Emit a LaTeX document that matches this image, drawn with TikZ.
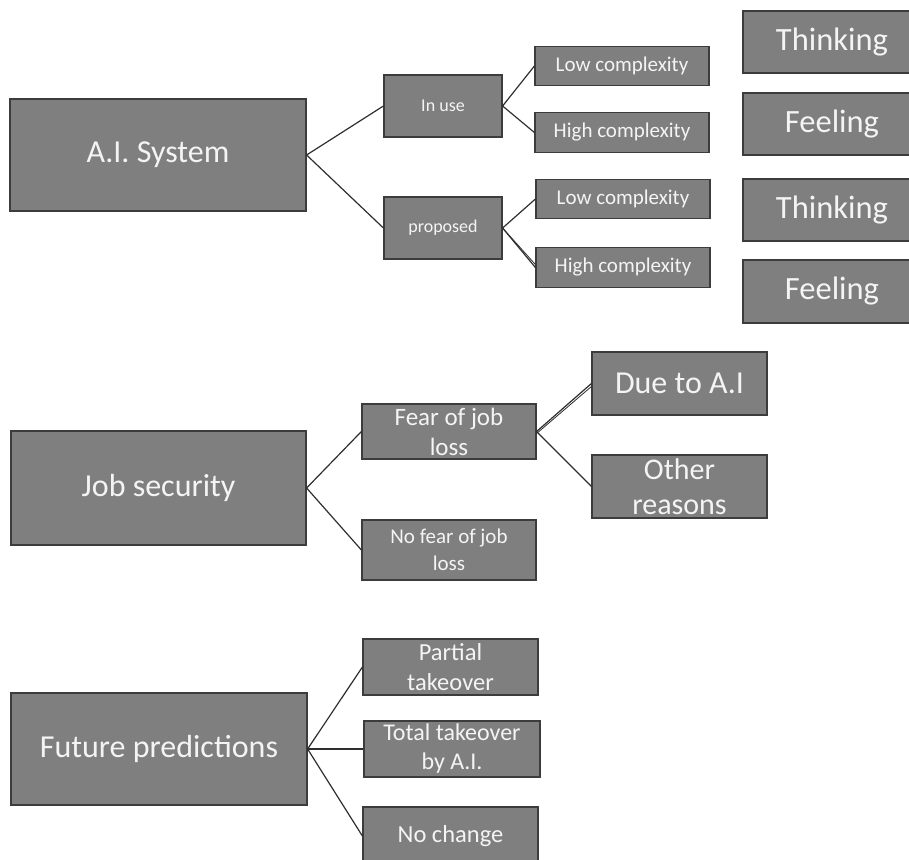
\documentclass[tikz,border=0pt]{standalone}
\usepackage{fontspec}
\setmainfont{Carlito}
\usepackage{tikz}
\usetikzlibrary{positioning, calc}
\definecolor{boxgray}{HTML}{7F7F7F}
\definecolor{boxline}{HTML}{3C3C3C}
\definecolor{boxtext}{HTML}{F4F4F4}
\definecolor{linkgray}{HTML}{2E2E2E}
\tikzstyle{topic} = [rectangle, minimum width=296pt, minimum height=112pt, inner sep=0pt, align=center, draw=boxline, line width=1.2pt, fill=boxgray, text=boxtext, font=\fontsize{32}{38}\selectfont]
\tikzstyle{branch} = [rectangle, minimum width=174pt, minimum height=56pt, inner sep=0pt, align=center, draw=boxline, line width=1.2pt, fill=boxgray, text=boxtext, font=\fontsize{24.5}{30}\selectfont]
\tikzstyle{smallbranch} = [rectangle, minimum width=118pt, minimum height=62pt, inner sep=0pt, align=center, draw=boxline, line width=1.2pt, fill=boxgray, text=boxtext, font=\fontsize{18}{22}\selectfont]
\tikzstyle{leaf} = [rectangle, minimum width=174pt, minimum height=39.5pt, inner sep=0pt, align=center, draw=boxline, line width=1.2pt, fill=boxgray, text=boxtext, font=\fontsize{21}{25}\selectfont]
\tikzstyle{mode} = [rectangle, minimum width=178pt, minimum height=62pt, inner sep=0pt, align=center, draw=boxline, line width=1.2pt, fill=boxgray, text=boxtext, font=\fontsize{32.5}{38}\selectfont]
\tikzstyle{link} = [draw=linkgray, line width=1.2pt]

\begin{document}
\begin{tikzpicture}[x=1pt, y=-1pt]
\useasboundingbox (0,0) rectangle (909,859);
\clip (0,0) rectangle (909,859);
% A.I. system
\node (ai) [topic] at (158,155) {A.I. System};
\node (inuse) [smallbranch] at (443,106) {In use};
\node (prop) [smallbranch] at (443,228) {proposed};
\node (low1) [leaf] at (622,66) {Low complexity};
\node (high1) [leaf] at (622,132.5) {High complexity};
\node (low2) [leaf] at (623,199) {Low complexity};
\node (high2) [leaf] at (623,267.5) {High complexity};
\node (think1) [mode] at (832,42) {Thinking};
\node (feel1) [mode] at (832,124) {Feeling};
\node (think2) [mode] at (832,210) {Thinking};
\node (feel2) [mode, minimum height=63pt] at (832,291.5) {Feeling};
\draw[link] (ai.east) -- (inuse.west);
\draw[link] (ai.east) -- (prop.west);
\draw[link] (inuse.east) -- (low1.west);
\draw[link] (inuse.east) -- (high1.west);
\draw[link] (prop.east) -- (low2.west);
\draw[link] (prop.east) -- (high2.west);
\draw[link, line width=0.8pt] (prop.east) -- ([yshift=3pt]high2.west);
% job security
\node (job) [topic, minimum width=295pt, minimum height=114pt] at (158.5,488) {Job security};
\node (fear) [branch, minimum height=55pt, font=\fontsize{25}{30}\selectfont] at (449,431.5) {Fear of job\\loss};
\node (nofear) [branch, minimum height=60pt, font=\fontsize{21}{27}\selectfont] at (449,550) {No fear of job\\loss};
\node (due) [branch, minimum width=175pt, minimum height=63pt, font=\fontsize{32}{38}\selectfont] at (679.5,383.5) {Due to A.I};
\node (other) [branch, minimum width=175pt, minimum height=63pt, font=\fontsize{30}{35}\selectfont] at (679.5,486.5) {Other\\reasons};
\draw[link] (job.east) -- (fear.west);
\draw[link] (job.east) -- (nofear.west);
\draw[link] (fear.east) -- (due.west);
\draw[link, line width=0.8pt] ([yshift=-2pt]fear.east) -- ([yshift=-3pt]due.west);
\draw[link] (fear.east) -- (other.west);
% future predictions
\node (future) [topic] at (159,749) {Future predictions};
\node (partial) [branch, minimum width=175pt] at (450.5,667) {Partial\\takeover};
\node (total) [branch, minimum width=176pt, font=\fontsize{24}{29}\selectfont] at (452,749) {Total takeover\\by A.I.};
\node (nochange) [branch, minimum width=175pt, minimum height=58pt] at (450.5,836) {No change};
\draw[link] (future.east) -- (partial.west);
\draw[link] (future.east) -- (total.west);
\draw[link] (future.east) -- (nochange.west);
\end{tikzpicture}
\end{document}
